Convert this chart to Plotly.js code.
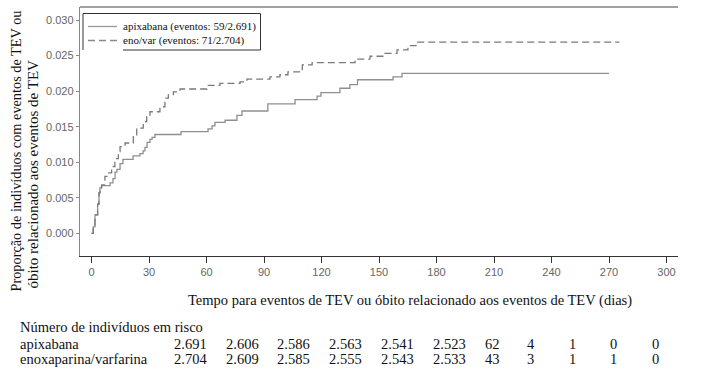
<!DOCTYPE html>
<html>
<head>
<meta charset="utf-8">
<script src="https://cdn.plot.ly/plotly-3.0.1.min.js"></script>
<style>html,body{margin:0;padding:0;background:#fff;overflow:hidden;}#chart{width:717px;height:370px;}</style>
</head>
<body>
<div id="chart"></div>
<script>
// ---- data ----
var apixDays = [0, 0.9, 1.8, 3.2, 3.9, 4.4, 5.2, 9.7, 11.2, 12.3, 13.3, 14.9, 16.4, 21.7, 25.3, 26.9, 27.9, 29.0, 30.5, 31.6, 33.1, 46.7, 60.8, 62.9, 64.4, 69.7, 75.9, 78.5, 92.0, 106.2, 117.7, 119.7, 129.6, 134.8, 138.8, 157.3, 162.0, 270.0];
var apixCum  = [0, 0.0009, 0.0026, 0.0041, 0.0057, 0.0064, 0.0067, 0.0071, 0.0077, 0.0086, 0.0090, 0.0098, 0.0104, 0.0109, 0.0112, 0.0116, 0.0121, 0.0128, 0.0132, 0.0135, 0.0139, 0.0143, 0.0147, 0.0151, 0.0156, 0.0159, 0.0166, 0.0172, 0.0182, 0.0188, 0.0193, 0.0198, 0.0204, 0.0209, 0.0216, 0.0220, 0.0225, 0.0225];
var enoxDays = [0, 0.9, 1.8, 3.2, 3.9, 4.4, 5.3, 7.0, 8.6, 10.5, 12.2, 14.0, 14.9, 17.5, 21.8, 23.6, 27.0, 28.8, 30.5, 35.7, 38.3, 40.1, 42.7, 46.2, 60.3, 67.0, 77.5, 81.1, 93.1, 98.3, 102.5, 110.0, 115.1, 137.5, 145.3, 153.1, 159.4, 165.1, 169.3, 275.4];
var enoxCum  = [0, 0.0009, 0.0026, 0.0041, 0.0057, 0.0064, 0.0068, 0.0080, 0.0085, 0.0094, 0.0105, 0.0115, 0.0122, 0.0127, 0.0136, 0.0148, 0.0157, 0.0164, 0.0171, 0.0178, 0.0190, 0.0195, 0.0199, 0.0203, 0.0208, 0.0211, 0.0213, 0.0217, 0.0220, 0.0223, 0.0227, 0.0237, 0.0240, 0.0245, 0.0249, 0.0253, 0.0258, 0.0264, 0.0269, 0.0269];

var xTicks = [0, 30, 60, 90, 120, 150, 180, 210, 240, 270, 300];
var yTicks = [0, 0.005, 0.010, 0.015, 0.020, 0.025, 0.030];

var legendLabels = ['apixabana (eventos: 59/2.691)', 'eno/var (eventos: 71/2.704)'];
var riskTitle = 'Número de indivíduos em risco';
var riskGroups = ['apixabana', 'enoxaparina/varfarina'];
var apixRisk = [2691, 2606, 2586, 2563, 2541, 2523, 62, 4, 1, 0, 0];
var enoxRisk = [2704, 2609, 2585, 2555, 2543, 2533, 43, 3, 1, 1, 0];

var yTitle1 = 'Proporção de indivíduos com eventos de TEV ou';
var yTitle2 = 'óbito relacionado aos eventos de TEV';
var xTitle = 'Tempo para eventos de TEV ou óbito relacionado aos eventos de TEV (dias)';

// ---- layout helpers (pixel -> paper) ----
var W = 717, H = 370, L = 80, R = 39, T = 7, B = 114;
var PW = W - L - R, PH = H - T - B;
function px(x) { return (x - L) / PW; }
function py(y) { return (H - B - y) / PH; }
function fmt(n) { var s = String(n); return s.replace(/\B(?=(\d{3})+(?!\d))/g, '.'); }

var serif = 'Liberation Serif, Times New Roman, serif';
var sans = 'Liberation Sans, Arial, sans-serif';

var traces = [
  { x: apixDays, y: apixCum, type: 'scatter', mode: 'lines', line: { shape: 'hv', color: '#8f8f8f', width: 1.3 }, name: legendLabels[0], showlegend: false, hoverinfo: 'skip' },
  { x: enoxDays, y: enoxCum, type: 'scatter', mode: 'lines', line: { shape: 'hv', color: '#7a7a7a', width: 1.3, dash: '7px,4px' }, name: legendLabels[1], showlegend: false, hoverinfo: 'skip' }
];

var annotations = [];
var shapes = [];

// top frame line
shapes.push({ type: 'line', xref: 'paper', yref: 'paper', x0: 0, x1: 1, y0: 1, y1: 1, line: { color: '#808080', width: 1.5 } });

// legend box (bottom-left portion missing as in reference)
var lc = { color: '#333', width: 1 };
shapes.push({ type: 'line', xref: 'paper', yref: 'paper', x0: px(83), x1: px(260.5), y0: py(13.5), y1: py(13.5), line: lc });
shapes.push({ type: 'line', xref: 'paper', yref: 'paper', x0: px(83), x1: px(83), y0: py(13.5), y1: py(50), line: lc });
shapes.push({ type: 'line', xref: 'paper', yref: 'paper', x0: px(260.5), x1: px(260.5), y0: py(13.5), y1: py(50), line: lc });
shapes.push({ type: 'line', xref: 'paper', yref: 'paper', x0: px(123), x1: px(260.5), y0: py(50), y1: py(50), line: lc });
shapes.push({ type: 'line', xref: 'paper', yref: 'paper', x0: px(88), x1: px(117), y0: py(26.5), y1: py(26.5), line: { color: '#9a9a9a', width: 1.3 } });
shapes.push({ type: 'line', xref: 'paper', yref: 'paper', x0: px(88), x1: px(117), y0: py(40.5), y1: py(40.5), line: { color: '#8a8a8a', width: 1.3, dash: '7px,4px' } });
[26.5, 40.5].forEach(function (yy, i) {
  annotations.push({ xref: 'paper', yref: 'paper', x: px(121), y: py(yy), xanchor: 'left', yanchor: 'middle', showarrow: false, text: legendLabels[i], font: { family: serif, size: 11, color: '#111' } });
});

// y axis title (two lines, rotated, bottom aligned)
annotations.push({ xref: 'paper', yref: 'paper', x: px(15), y: py(294), xanchor: 'center', yanchor: 'bottom', textangle: -90, showarrow: false, text: yTitle1, font: { family: serif, size: 14.3, color: '#111' } });
annotations.push({ xref: 'paper', yref: 'paper', x: px(32), y: py(291), xanchor: 'center', yanchor: 'bottom', textangle: -90, showarrow: false, text: yTitle2, font: { family: serif, size: 15, color: '#111' } });

// x axis title
annotations.push({ xref: 'paper', yref: 'paper', x: px(410), y: py(300), xanchor: 'center', yanchor: 'middle', showarrow: false, text: xTitle, font: { family: serif, size: 14.5, color: '#111' } });

// risk table
var colLeft = [172, 223.5, 275, 327, 379, 431, 483, 525, 567, 608, 650];
var rowY = [326.5, 344, 358.5];
annotations.push({ xref: 'paper', yref: 'paper', x: px(18), y: py(rowY[0]), xanchor: 'left', yanchor: 'middle', showarrow: false, text: riskTitle, font: { family: serif, size: 14.5, color: '#111' } });
[apixRisk, enoxRisk].forEach(function (arr, r) {
  annotations.push({ xref: 'paper', yref: 'paper', x: px(18), y: py(rowY[r + 1]), xanchor: 'left', yanchor: 'middle', showarrow: false, text: riskGroups[r], font: { family: serif, size: 14.5, color: '#111' } });
  arr.forEach(function (v, i) {
    annotations.push({ xref: 'paper', yref: 'paper', x: px(colLeft[i]), y: py(rowY[r + 1]), xanchor: 'left', yanchor: 'middle', showarrow: false, text: fmt(v), font: { family: serif, size: 14.5, color: '#111' } });
  });
});

var layout = {
  width: W, height: H, autosize: false,
  margin: { l: L, r: R, t: T, b: B, pad: 0, autoexpand: false },
  paper_bgcolor: '#fff', plot_bgcolor: '#fff',
  showlegend: false,
  xaxis: {
    range: [-6.0, 306.0], tickvals: xTicks, ticktext: xTicks.map(String), automargin: false,
    showgrid: false, zeroline: false, showline: true, linecolor: '#333', linewidth: 1.2,
    ticks: 'outside', ticklen: 6, tickcolor: '#333', tickwidth: 1,
    tickfont: { family: sans, size: 11, color: '#666' }
  },
  yaxis: {
    range: [-0.00319, 0.03183], tickvals: yTicks, ticktext: yTicks.map(function (v) { return v.toFixed(3); }), automargin: false,
    showgrid: false, zeroline: false, showline: true, linecolor: '#888', linewidth: 1.2,
    ticks: 'outside', ticklen: 3, tickcolor: '#888', tickwidth: 1,
    tickfont: { family: sans, size: 11, color: '#666' }
  },
  shapes: shapes,
  annotations: annotations
};

Plotly.newPlot('chart', traces, layout, { staticPlot: true, displayModeBar: false });
</script>
</body>
</html>
